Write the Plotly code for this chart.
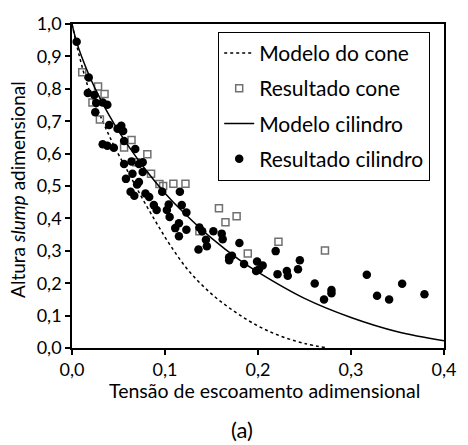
import plotly.graph_objects as go

# Model curves
cone_model_x = [0, 0.008, 0.018, 0.033, 0.045, 0.06, 0.075, 0.09, 0.105, 0.125, 0.15, 0.175, 0.2, 0.225, 0.25, 0.275]
cone_model_y = [1.0, 0.9, 0.8, 0.7, 0.625, 0.545, 0.465, 0.39, 0.32, 0.24, 0.167, 0.112, 0.068, 0.036, 0.014, 0.0]

cyl_model_x = [0, 0.005, 0.01, 0.02, 0.03, 0.04, 0.05, 0.06, 0.08, 0.1, 0.12, 0.15, 0.18, 0.2, 0.25, 0.3, 0.35, 0.4]
cyl_model_y = [1.0, 0.944, 0.902, 0.831, 0.771, 0.718, 0.670, 0.626, 0.547, 0.478, 0.418, 0.339, 0.272, 0.234, 0.153, 0.094, 0.050, 0.022]

# Experimental results - cone (open squares)
cone_x = [0.011, 0.028, 0.035, 0.022, 0.030, 0.064, 0.056, 0.081, 0.069, 0.085, 0.094, 0.098, 0.109, 0.122,
          0.137, 0.158, 0.165, 0.177, 0.189, 0.222, 0.272]
cone_y = [0.851, 0.807, 0.784, 0.758, 0.705, 0.642, 0.619, 0.598, 0.573, 0.538, 0.506, 0.500, 0.507, 0.507,
          0.360, 0.431, 0.388, 0.407, 0.292, 0.328, 0.301]

# Experimental results - cylinder (filled)
cyl_x = [0.005, 0.018, 0.017, 0.024, 0.026, 0.033, 0.038, 0.025, 0.040, 0.053, 0.055, 0.049,
         0.033, 0.038, 0.045, 0.056, 0.068, 0.056, 0.064, 0.072, 0.076, 0.065, 0.058, 0.072,
         0.070, 0.063, 0.067, 0.079, 0.083, 0.088, 0.091, 0.097, 0.116, 0.104, 0.102, 0.105,
         0.118, 0.123, 0.115, 0.111, 0.123, 0.115, 0.137, 0.140, 0.152, 0.161, 0.162, 0.144,
         0.145, 0.136, 0.180, 0.169, 0.172, 0.169, 0.185, 0.199, 0.205, 0.198, 0.201, 0.219,
         0.221, 0.231, 0.232, 0.245, 0.243, 0.261, 0.271, 0.279, 0.279, 0.317, 0.328, 0.341,
         0.355, 0.379, 0.076]
cyl_y = [0.945, 0.835, 0.787, 0.781, 0.756, 0.758, 0.751, 0.728, 0.688, 0.686, 0.670, 0.677,
         0.629, 0.624, 0.618, 0.639, 0.614, 0.568, 0.576, 0.568, 0.543, 0.538, 0.522, 0.512,
         0.505, 0.482, 0.470, 0.477, 0.466, 0.441, 0.426, 0.482, 0.482, 0.443, 0.426, 0.404,
         0.441, 0.418, 0.385, 0.370, 0.365, 0.345, 0.372, 0.360, 0.360, 0.353, 0.336, 0.334,
         0.314, 0.304, 0.324, 0.280, 0.285, 0.271, 0.259, 0.267, 0.255, 0.238, 0.242, 0.299,
         0.228, 0.238, 0.223, 0.271, 0.243, 0.199, 0.150, 0.179, 0.169, 0.226, 0.161, 0.150,
         0.198, 0.166, 0.573]

x_ticks = [0, 0.1, 0.2, 0.3, 0.4]
y_ticks = [0, 0.1, 0.2, 0.3, 0.4, 0.5, 0.6, 0.7, 0.8, 0.9, 1.0]

FONT = "Lato"

fig = go.Figure()
fig.add_trace(go.Scatter(x=cone_model_x, y=cone_model_y, mode="lines", name="Modelo do cone", legendgroup="a",
                         line=dict(color="black", width=1.5, dash="dot", shape="spline")))
fig.add_trace(go.Scatter(x=cone_x, y=cone_y, mode="markers", name="Resultado cone", legendgroup="b",
                         marker=dict(symbol="square-open", size=7, color="#707070", line=dict(width=1.5, color="#707070"))))
fig.add_trace(go.Scatter(x=cyl_model_x, y=cyl_model_y, mode="lines", name="Modelo cilindro", legendgroup="c",
                         line=dict(color="black", width=1.5, shape="spline")))
fig.add_trace(go.Scatter(x=cyl_x, y=cyl_y, mode="markers", name="Resultado cilindro", legendgroup="d",
                         marker=dict(symbol="circle", size=8.5, color="black")))

fig.update_layout(
    width=468, height=445,
    margin=dict(l=72, r=19, t=20, b=97),
    paper_bgcolor="white", plot_bgcolor="white",
    separators=", ",
    font=dict(family=FONT, size=18, color="black"),
    showlegend=True,
    legend=dict(x=0.393, y=0.976, xanchor="left", yanchor="top",
                bordercolor="black", borderwidth=1, bgcolor="white",
                font=dict(family=FONT, size=21, color="black"),
                tracegroupgap=5, itemwidth=30),
    xaxis=dict(range=[0, 0.4], tickvals=x_ticks, tickformat=".1f",
               showline=True, linecolor="black", linewidth=1.5, mirror=True,
               ticks="outside", ticklen=5, tickwidth=1.5, tickcolor="black",
               showgrid=False, zeroline=False, tickfont=dict(size=18)),
    yaxis=dict(range=[0, 1.0], tickvals=y_ticks, tickformat=".1f",
               showline=True, linecolor="black", linewidth=1.5, mirror=True,
               ticks="outside", ticklen=5, tickwidth=1.5, tickcolor="black",
               showgrid=False, zeroline=False, tickfont=dict(size=18)),
    annotations=[
        dict(text="Tensão de escoamento adimensional", x=0.517, y=-0.131, xref="paper", yref="paper",
             xanchor="center", yanchor="middle", showarrow=False, font=dict(size=19.5)),
        dict(text="Altura <i>slump</i> adimensional", x=-0.146, y=0.49, xref="paper", yref="paper",
             xanchor="center", yanchor="middle", textangle=-90, showarrow=False, font=dict(size=19)),
        dict(text="(a)", x=0.456, y=-0.25, xref="paper", yref="paper",
             xanchor="center", yanchor="middle", showarrow=False, font=dict(size=22)),
    ],
)

fig.write_html("out.html")
